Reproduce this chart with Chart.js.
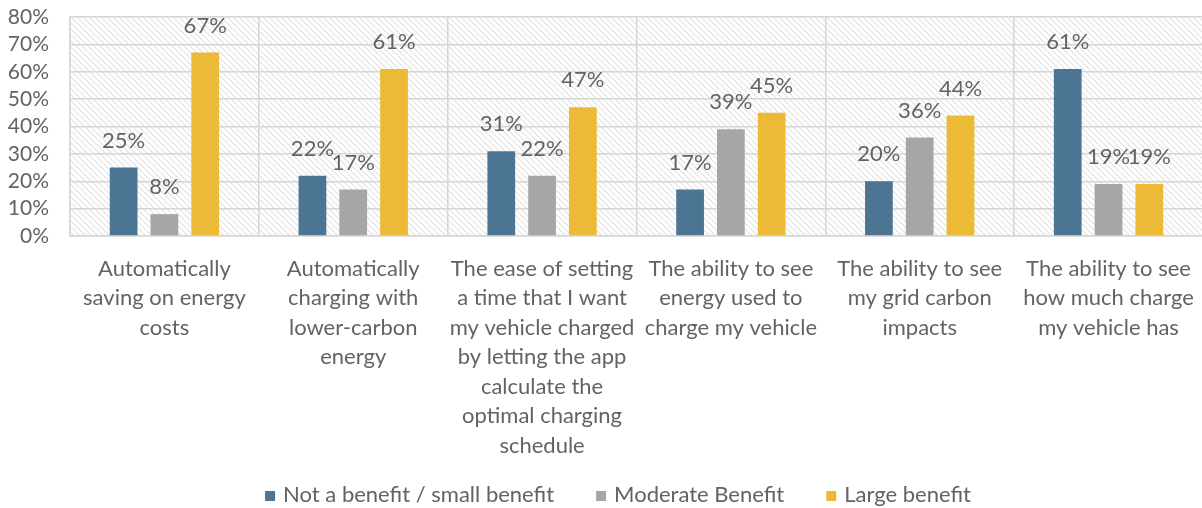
<!DOCTYPE html>
<html>
<head>
<meta charset="utf-8">
<script src="https://cdn.jsdelivr.net/npm/chart.js@4.4.1/dist/chart.umd.min.js"></script>
<style>
  html, body { margin: 0; padding: 0; background: #ffffff; overflow: hidden; }
  #wrap { width: 1212px; height: 508px; position: relative; }
</style>
</head>
<body>
<div id="wrap"><canvas id="chart"></canvas></div>
<script>
// Survey categories (wrapped into lines as they appear under the axis)
const categories = [
  ["Automatically", "saving on energy", "costs"],
  ["Automatically", "charging with", "lower-carbon", "energy"],
  ["The ease of setting", "a time that I want", "my vehicle charged", "by letting the app", "calculate the", "optimal charging", "schedule"],
  ["The ability to see", "energy used to", "charge my vehicle"],
  ["The ability to see", "my grid carbon", "impacts"],
  ["The ability to see", "how much charge", "my vehicle has"]
];

const seriesNames = ["Not a benefit / small benefit", "Moderate Benefit", "Large benefit"];

// Share of respondents (%)
const notBenefit = [25, 22, 31, 17, 20, 61];
const moderateBenefit = [8, 17, 22, 39, 36, 19];
const largeBenefit = [67, 61, 47, 45, 44, 19];

const yTicks = [0, 10, 20, 30, 40, 50, 60, 70, 80];

const colors = ["#4b7592", "#a6a6a6", "#ecba36"];
const textColor = "#636363";
const gridColor = "#d6d6d6";
const fontFamily = "Lato, 'Open Sans', sans-serif";

// Diagonal hatch used as the plot background
function makeHatch(ctx) {
  const s = 6;
  const c = document.createElement("canvas");
  c.width = s; c.height = s;
  const g = c.getContext("2d");
  g.fillStyle = "#ffffff";
  g.fillRect(0, 0, s, s);
  g.strokeStyle = "#e2e2e2";
  g.lineWidth = 1.2;
  g.beginPath();
  g.moveTo(0, 0); g.lineTo(s, s);
  g.moveTo(-s, 0); g.lineTo(s, 2 * s);
  g.moveTo(0, -s); g.lineTo(2 * s, s);
  g.stroke();
  return ctx.createPattern(c, "repeat");
}

const hatchBackground = {
  id: "hatchBackground",
  beforeDraw(chart) {
    const { ctx, chartArea: a } = chart;
    ctx.save();
    ctx.fillStyle = makeHatch(ctx);
    ctx.fillRect(a.left, a.top, a.right - a.left, a.bottom - a.top);
    ctx.restore();
  }
};

// Percentage labels above each bar
const valueLabels = {
  id: "valueLabels",
  afterDatasetsDraw(chart) {
    const ctx = chart.ctx;
    ctx.save();
    ctx.font = "22px " + fontFamily;
    ctx.fillStyle = textColor;
    ctx.textAlign = "center";
    ctx.textBaseline = "middle";
    chart.data.datasets.forEach((ds, i) => {
      const meta = chart.getDatasetMeta(i);
      meta.data.forEach((bar, j) => {
        ctx.fillText(ds.data[j] + "%", bar.x, bar.y - 27);
      });
    });
    ctx.restore();
  }
};

// Legend row along the bottom: small square swatch followed by the series name
const bottomLegend = {
  id: "bottomLegend",
  afterDraw(chart) {
    const ctx = chart.ctx;
    const box = 10, boxGap = 8, itemGap = 42, centerX = 618, centerY = 495;
    ctx.save();
    ctx.font = "22px " + fontFamily;
    ctx.textBaseline = "middle";
    ctx.textAlign = "left";
    const items = chart.data.datasets.map(ds => ({
      text: ds.label, color: ds.backgroundColor, w: ctx.measureText(ds.label).width
    }));
    const total = items.reduce((s, it) => s + box + boxGap + it.w, 0) + itemGap * (items.length - 1);
    let x = centerX - total / 2;
    items.forEach(it => {
      ctx.fillStyle = it.color;
      ctx.fillRect(x, centerY - box / 2 + 1, box, box);
      ctx.fillStyle = textColor;
      ctx.fillText(it.text, x + box + boxGap, centerY);
      x += box + boxGap + it.w + itemGap;
    });
    ctx.restore();
  }
};

const datasets = [notBenefit, moderateBenefit, largeBenefit].map((vals, i) => ({
  label: seriesNames[i],
  data: vals,
  backgroundColor: colors[i],
  borderWidth: 0,
  categoryPercentage: 0.648,
  barPercentage: 0.68
}));

new Chart(document.getElementById("chart"), {
  type: "bar",
  data: { labels: categories, datasets },
  plugins: [hatchBackground, valueLabels, bottomLegend],
  options: {
    responsive: true,
    maintainAspectRatio: false,
    animation: false,
    layout: { padding: { top: 17, right: 2, bottom: 46, left: 0 } },
    plugins: {
      tooltip: { enabled: false },
      legend: { display: false }
    },
    scales: {
      x: {
        grid: { offset: true, color: gridColor, lineWidth: 1.5, drawTicks: false },
        border: { display: true, color: gridColor, width: 1.5 },
        ticks: {
          color: textColor,
          font: { family: fontFamily, size: 22, lineHeight: 1.34 },
          padding: 18,
          maxRotation: 0,
          autoSkip: false
        },
        afterFit(scale) { scale.height = 226; }
      },
      y: {
        min: 0,
        max: 80,
        afterBuildTicks(scale) { scale.ticks = yTicks.map(v => ({ value: v })); },
        grid: { color: gridColor, lineWidth: 1.5, drawTicks: false },
        border: { display: true, color: gridColor, width: 1.5 },
        ticks: {
          color: textColor,
          font: { family: fontFamily, size: 21 },
          padding: 21,
          autoSkip: false,
          callback: v => v + "%"
        },
        afterFit(scale) {
          scale.width = 70;
          // keep the plot top/bottom fixed by the layout padding alone
          scale.paddingTop = 0;
          scale.paddingBottom = 0;
        }
      }
    }
  }
});
</script>
</body>
</html>
